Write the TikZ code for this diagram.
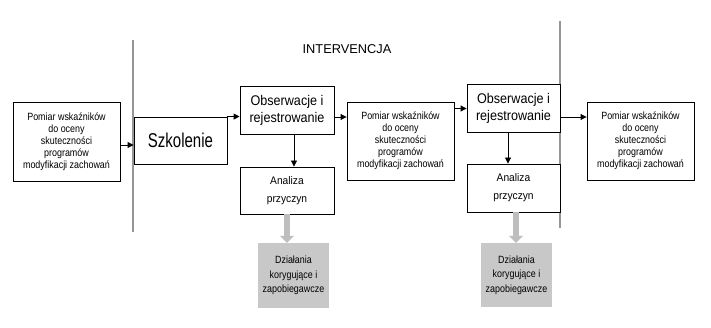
\documentclass[tikz,border=0pt]{standalone}
\usepackage{fontspec}
\setmainfont{Liberation Sans}
\newfontfamily\fszk[FakeStretch=0.75]{Liberation Sans}
\newfontfamily\fobs[FakeStretch=0.9]{Liberation Sans}
\newfontfamily\fpom[FakeStretch=0.85]{Liberation Sans}
\newfontfamily\fana[FakeStretch=0.93]{Liberation Sans}
\usetikzlibrary{arrows.meta}
\definecolor{grayfill}{RGB}{200,200,200}
\definecolor{grayarrow}{RGB}{190,190,190}
\definecolor{sepline}{RGB}{150,150,150}
\tikzset{
  box/.style={draw=black, line width=0.9pt, fill=white, align=center, inner sep=0pt},
  pombox/.style={box, minimum width=107pt, minimum height=79pt, font=\fpom\fontsize{10.5}{12}\selectfont},
  obsbox/.style={box, minimum width=94pt, minimum height=48pt, font=\fobs\fontsize{14}{17}\selectfont},
  anabox/.style={box, minimum width=94pt, minimum height=47pt, font=\fana\fontsize{11}{18}\selectfont},
  graybox/.style={fill=grayfill, draw=none, align=center, inner sep=0pt, minimum width=71pt, minimum height=65pt, font=\fpom\fontsize{10.5}{14.5}\selectfont},
  arr/.style={draw=black, line width=0.9pt, -{Triangle[length=6pt,width=6pt]}},
  grayarr/.style={draw=grayarrow, line width=6pt, -{Triangle[length=7pt,width=14pt]}},
  sep/.style={draw=sepline, line width=1.4pt}
}
\begin{document}
\begin{tikzpicture}[x=1pt,y=-1pt]
\useasboundingbox[fill=white] (0,0) rectangle (711,328);

\draw[sep] (133,40) coordinate (l1) -- (133,232) coordinate (l2);
\draw[sep] (560,21) coordinate (r1) -- (560,228) coordinate (r2);

\node[font=\fontsize{12.8}{15}\selectfont] (title) at (347,49) {INTERVENCJA};

\node[pombox] (p1) at (66.5,142) {Pomiar wskaźników\\do oceny\\skuteczności\\programów\\modyfikacji zachowań};
\node[box, minimum width=93pt, minimum height=47pt, font=\fszk\fontsize{20}{24}\selectfont] (szk) at (180.5,140.5) {Szkolenie};
\node[obsbox] (o1) at (287,110) {Obserwacje i\\rejestrowanie};
\node[anabox] (a1) at (287,190.5) {Analiza\\przyczyn};
\node[pombox, minimum height=78pt] (p2) at (400.5,141) {Pomiar wskaźników\\do oceny\\skuteczności\\programów\\modyfikacji zachowań};
\node[obsbox, minimum width=93pt] (o2) at (513.5,108.5) {Obserwacje i\\rejestrowanie};
\node[anabox, minimum width=93pt, minimum height=48pt] (a2) at (513.5,188) {Analiza\\przyczyn};
\node[pombox, minimum height=78pt] (p3) at (640.5,141) {Pomiar wskaźników\\do oceny\\skuteczności\\programów\\modyfikacji zachowań};
\node[graybox] (g1) at (293.5,275.5) {Działania\\korygujące i\\zapobiegawcze};
\node[graybox, minimum height=64pt] (g2) at (516.5,275) {Działania\\korygujące i\\zapobiegawcze};

\draw[arr] ([yshift=-3pt]p1.east) -- ([yshift=-3pt]p1.east -| szk.west);
\draw[arr] (szk.north east) -- (szk.north east -| o1.west);
\draw[arr] ([xshift=7pt]o1.south) -- ([xshift=7pt]o1.south |- a1.north);
\draw[arr] ([yshift=-7pt]o1.east) -- ([yshift=-7pt]o1.east -| p2.west);
\draw[arr] (o2.west -| p2.east) -- (o2.west);
\draw[arr] ([xshift=-5.5pt]o2.south) -- ([xshift=-5.5pt]o2.south |- a2.north);
\draw[arr] ([yshift=-8.5pt]o2.east) -- ([yshift=-8.5pt]o2.east -| p3.west);

\draw[grayarr] (a1.south) -- (a1.south |- g1.north);
\draw[grayarr] ([xshift=2.5pt]a2.south) -- ([xshift=2.5pt]a2.south |- g2.north);
\end{tikzpicture}
\end{document}
